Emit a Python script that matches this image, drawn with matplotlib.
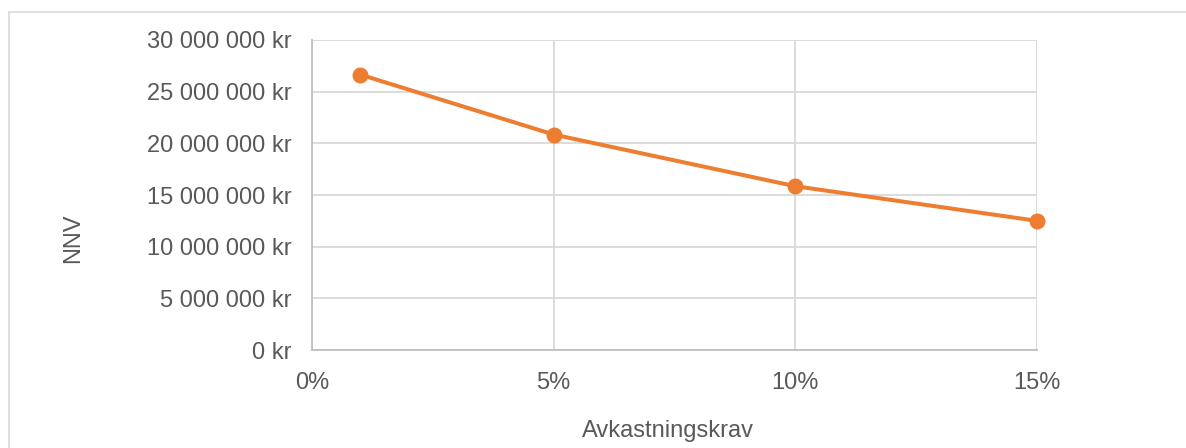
import matplotlib
matplotlib.use("Agg")
import matplotlib.pyplot as plt
from matplotlib.lines import Line2D
from matplotlib.ticker import FuncFormatter, MultipleLocator

plt.rcParams['font.family'] = ['Liberation Sans', 'DejaVu Sans']

# Net present value at different required rates of return
avkastningskrav = [0.01, 0.05, 0.10, 0.15]
nnv = [26_650_000, 20_850_000, 15_850_000, 12_500_000]

orange = '#ED7D31'
grid_col = '#D9D9D9'
text_col = '#595959'

W, H = 1186, 448
fig = plt.figure(figsize=(W / 100, H / 100), dpi=100)
ax = fig.add_axes([312 / W, 1 - 350 / H, (1037 - 312) / W, (350 - 40) / H])

ax.plot(avkastningskrav, nnv, color=orange, linewidth=2.9, marker='o',
        markersize=10.5, markerfacecolor=orange, markeredgecolor=orange,
        solid_capstyle='round', zorder=3, clip_on=False)

ax.set_xlim(0, 0.15)
ax.set_ylim(0, 30_000_000)
ax.xaxis.set_major_locator(MultipleLocator(0.05))
ax.yaxis.set_major_locator(MultipleLocator(5_000_000))


def kr_fmt(v, pos):
    s = f"{int(round(v)):,}".replace(",", " ")
    return f"{s} kr"


ax.yaxis.set_major_formatter(FuncFormatter(kr_fmt))
ax.xaxis.set_major_formatter(FuncFormatter(lambda v, p: f"{v * 100:.0f}%"))

ax.grid(True, color=grid_col, linewidth=1.3)
ax.set_axisbelow(True)
for side in ['top', 'right']:
    ax.spines[side].set_visible(False)
for side in ['left', 'bottom']:
    ax.spines[side].set_color('#BFBFBF')
    ax.spines[side].set_linewidth(1.3)

ax.tick_params(length=0, labelsize=17, colors=text_col)
ax.tick_params(axis='y', pad=15)
ax.tick_params(axis='x', pad=16)

# axis titles
ax.text((73 - 312) / 725, (350 - 238) / 310, 'NNV', transform=ax.transAxes,
        rotation=90, ha='center', va='center', fontsize=17, color=text_col)
ax.set_xlabel('Avkastningskrav', fontsize=17, color=text_col, va='center')
ax.xaxis.set_label_coords((668 - 312) / 725, (350 - 431) / 310)

# chart frame
fig.add_artist(Line2D([9 / W, 1], [1 - 12 / H, 1 - 12 / H], color=grid_col,
                      linewidth=1.2, transform=fig.transFigure))
fig.add_artist(Line2D([9 / W, 9 / W], [0, 1 - 12 / H], color=grid_col,
                      linewidth=1.2, transform=fig.transFigure))

fig.savefig('out.png', dpi=100, facecolor='white')
